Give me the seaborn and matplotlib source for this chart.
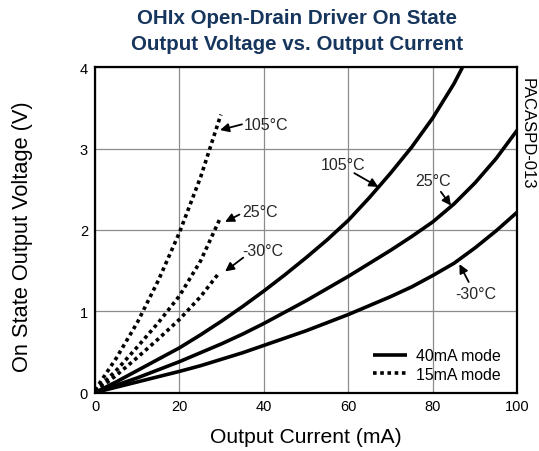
import matplotlib
matplotlib.use("Agg")
import matplotlib.pyplot as plt
import seaborn as sns
import pandas as pd

# 40mA mode (solid) — output current (mA) and on-state voltage (V)
i_40 = [0, 5, 10, 15, 20, 25, 30, 35, 40, 45, 50, 55, 60, 65, 70, 75, 80, 85, 90, 95, 100]
i_40_105 = [0, 5, 10, 15, 20, 25, 30, 35, 40, 45, 50, 55, 60, 65, 70, 75, 80, 85, 87]
v_40_105 = [0, 0.13, 0.27, 0.41, 0.55, 0.71, 0.88, 1.06, 1.25, 1.45, 1.66, 1.88, 2.12, 2.40, 2.70, 3.02, 3.38, 3.80, 4.00]
v_40_25 = [0, 0.09, 0.18, 0.28, 0.38, 0.49, 0.60, 0.72, 0.85, 0.99, 1.13, 1.28, 1.43, 1.59, 1.75, 1.92, 2.10, 2.32, 2.58, 2.88, 3.23]
v_40_m30 = [0, 0.065, 0.13, 0.195, 0.26, 0.33, 0.41, 0.49, 0.58, 0.67, 0.76, 0.86, 0.96, 1.07, 1.18, 1.30, 1.44, 1.59, 1.78, 1.99, 2.22]

# 15mA mode (dotted)
i_15_105 = [0, 5, 10, 15, 20, 25, 29.8]
v_15_105 = [0.03, 0.42, 0.86, 1.38, 1.97, 2.65, 3.42]
i_15_25 = [0, 5, 10, 15, 20, 25, 29.6]
v_15_25 = [0.02, 0.27, 0.56, 0.86, 1.19, 1.62, 2.14]
i_15_m30 = [0, 5, 10, 15, 20, 25, 29.5]
v_15_m30 = [0.01, 0.21, 0.43, 0.66, 0.90, 1.18, 1.48]

x_ticks = [0, 20, 40, 60, 80, 100]
y_ticks = [0, 1, 2, 3, 4]

sns.set_theme(style="white")
plt.rcParams["font.family"] = ["Liberation Sans", "DejaVu Sans"]

fig = plt.figure(figsize=(5.39, 4.52), dpi=100)
ax = fig.add_axes([0.1763, 0.1294, 0.9597 - 0.1763, 0.8485 - 0.1294])

DOT = (0, (1, 1))
series = [
    (i_40_105, v_40_105, "40mA mode", "-"),
    (i_40, v_40_25, None, "-"),
    (i_40, v_40_m30, None, "-"),
    (i_15_105, v_15_105, "15mA mode", DOT),
    (i_15_25, v_15_25, None, DOT),
    (i_15_m30, v_15_m30, None, DOT),
]
for xs, ys, lab, ls in series:
    df = pd.DataFrame({"I": xs, "V": ys})
    sns.lineplot(data=df, x="I", y="V", ax=ax, color="black", lw=2.6,
                 linestyle=ls, label=lab, sort=False, legend=bool(lab))
for ln in ax.lines:
    ln.set_dash_capstyle("butt")
    ln.set_solid_capstyle("butt")
    ln.set_solid_joinstyle("round")

ax.set_xlim(0, 100)
ax.set_ylim(0, 4)
ax.set_xticks(x_ticks)
ax.set_yticks(y_ticks)
ax.set_xticklabels([str(t) for t in x_ticks], fontsize=10.5)
ax.set_yticklabels([str(t) for t in y_ticks], fontsize=10.5)
ax.grid(True, color="#8c8c8c", lw=0.9)
ax.tick_params(axis="both", direction="in", length=4, width=1, color="black", pad=5, labelcolor="black")
for sp in ax.spines.values():
    sp.set_color("black")
    sp.set_linewidth(1.6)

ax.set_xlabel("Output Current (mA)", fontsize=15.2, color="black", labelpad=10)
ax.set_ylabel("On State Output Voltage (V)", fontsize=15.7, color="black")
ax.yaxis.set_label_coords(-0.147, 0.483)

arrow = dict(arrowstyle="-|>", color="black", lw=1.3, mutation_scale=13, shrinkA=0, shrinkB=0)
FS = 11.5

# 15mA mode temperature labels
ax.annotate("", xy=(29.6, 3.23), xytext=(34.8, 3.30), arrowprops=arrow)
ax.text(35.3, 3.30, "105°C", fontsize=FS, ha="left", va="center")
ax.annotate("", xy=(30.8, 2.10), xytext=(34.2, 2.19), arrowprops=arrow)
ax.text(34.8, 2.23, "25°C", fontsize=FS, ha="left", va="center")
ax.annotate("", xy=(30.8, 1.49), xytext=(35.1, 1.66), arrowprops=arrow)
ax.text(34.8, 1.75, "-30°C", fontsize=FS, ha="left", va="center")

# 40mA mode temperature labels
ax.annotate("", xy=(67.1, 2.53), xytext=(61.4, 2.70), arrowprops=arrow)
ax.text(58.8, 2.80, "105°C", fontsize=FS, ha="center", va="center")
ax.annotate("", xy=(84.3, 2.30), xytext=(81.9, 2.47), arrowprops=arrow)
ax.text(80.0, 2.61, "25°C", fontsize=FS, ha="center", va="center")
ax.annotate("", xy=(86.3, 1.58), xytext=(88.5, 1.36), arrowprops=arrow)
ax.text(90.2, 1.22, "-30°C", fontsize=FS, ha="center", va="center")

leg = ax.legend(loc="lower right", frameon=False, fontsize=11.4, handlelength=2.2,
                handletextpad=0.55, labelspacing=0.2, bbox_to_anchor=(0.995, -0.01))
for t in leg.get_texts():
    t.set_color("black")

title_color = "#17365d"
fig.text(297 / 539, 1 - 19 / 452, "OHIx Open-Drain Driver On State", ha="center", va="center",
         fontsize=14.8, fontweight="bold", color=title_color)
fig.text(297 / 539, 1 - 44 / 452, "Output Voltage vs. Output Current", ha="center", va="center",
         fontsize=14.8, fontweight="bold", color=title_color)
fig.text(527 / 539, 1 - 134 / 452, "PACASPD-013", rotation=-90, ha="center", va="center",
         fontsize=12, color="black")

fig.savefig("out.png", dpi=100)
